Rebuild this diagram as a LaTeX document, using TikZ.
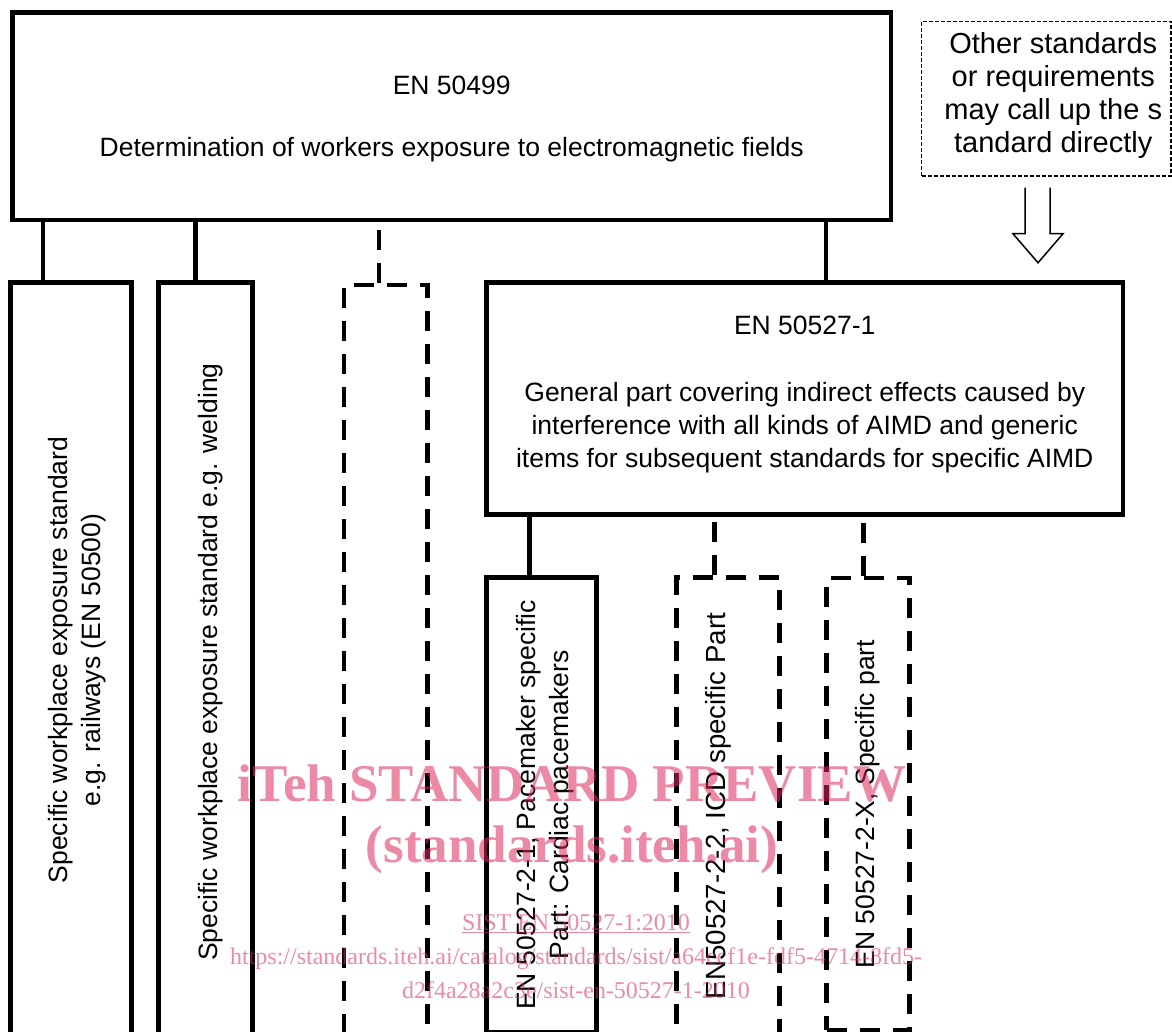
\documentclass[tikz,border=0pt]{standalone}
\usepackage{fontspec}
\setmainfont{Liberation Sans}
\newfontfamily\wmfont{Liberation Serif}
\usepackage{tikz}
\usetikzlibrary{positioning,calc}
\definecolor{wmpink}{RGB}{220,42,92}

\begin{document}
\begin{tikzpicture}[x=1pt,y=-1pt,
	box/.style={
		draw,
		rectangle, line width=4.5pt,
		inner sep=0pt
	},
	dbox/.style={
		box, dash pattern=on 20pt off 13pt
	},
	txt/.style={
		inner sep=2pt, align=center,
		font=\fontsize{26.5}{33}\selectfont
	},
	vtxt/.style={
		txt, rotate=90
	},
	link/.style={line width=4.5pt},
	dlink/.style={link, dash pattern=on 20pt off 13pt},
	wmark/.style={
		text=wmpink, text opacity=0.55,
		align=center, inner sep=0pt
	}
	]
	\useasboundingbox (0,0) rectangle (1172,1032);
	\clip (0,0) rectangle (1172,1032);
	\node[box,minimum width=878.5pt,minimum height=207.5pt] at (451.75,116.25) (en) {};
	\node[txt] at ([yshift=-3pt]en.center)
	(en-t) {EN 50499\\[29pt]Determination of workers exposure to electromagnetic fields};
	\node[draw,line width=1.5pt,dash pattern=on 4pt off 2pt,
		minimum width=249.5pt,minimum height=154.5pt] at (1046.25,98.75) (other) {};
	\node[txt,font=\fontsize{29}{33}\selectfont] at ([xshift=7pt,yshift=3pt]other.center)
	(other-t) {Other standards\\or requirements\\may call up the s\\tandard directly};
	
	\node[box,minimum width=121pt,minimum height=755pt] at (71,660) (rail) {};
	\node[vtxt] at ([xshift=6pt]rail.center)
	(rail-t) {Specific workplace exposure standard\\e.g. railways (EN 50500)};
	\node[box,minimum width=94pt,minimum height=755pt] at (205.5,660) (weld) {};
	\node[vtxt] at ([xshift=5pt,yshift=-2pt]weld.center)
	(weld-t) {Specific workplace exposure standard e.g. welding};
	\node[dbox,minimum width=83.5pt,minimum height=754pt] at (385.75,662) (more) {};
	\node[box,minimum width=636.5pt,minimum height=232pt] at (804.75,398.5) (gen) {};
	\node[txt] at ([yshift=4pt]gen.center)
	(gen-t) {EN 50527-1\\[34pt]General part covering indirect effects caused by\\interference with all kinds of AIMD and generic\\items for subsequent standards for specific AIMD};
	\node[box,minimum width=110pt,minimum height=455pt] at (541.5,805) (pace) {};
	\node[vtxt] at ([xshift=4pt]pace.center)
	(pace-t) {EN 50527-2-1, Pacemaker specific\\Part: Cardiac pacemakers};
	\node[dbox,minimum width=103pt,minimum height=457pt] at (728,806) (icd) {};
	\node[vtxt,font=\fontsize{27.7}{33}\selectfont] at ([xshift=-10pt]icd.center)
	(icd-t) {EN50527-2-2, ICD specific Part};
	\node[dbox,minimum width=83pt,minimum height=452pt] at (868,804) (spec) {};
	\node[vtxt] at (spec.center)
	(spec-t) {EN 50527-2-X, Specific part};
	
	\coordinate (c1) at ($(rail.north west)!0.277!(rail.north east)$);
	\coordinate (c2) at ($(weld.north west)!0.40!(weld.north east)$);
	\coordinate (c3) at ($(more.north west)!0.425!(more.north east)$);
	\coordinate (c4) at ($(gen.north west)!0.533!(gen.north east)$);
	\coordinate (c5) at ($(pace.north west)!0.395!(pace.north east)$);
	\coordinate (c6) at ($(icd.north west)!0.374!(icd.north east)$);
	\coordinate (c7) at ($(spec.north west)!0.446!(spec.north east)$);
	
	\draw[link] (c1) -- (c1 |- en.south);
	\draw[link] (c2) -- (c2 |- en.south);
	\draw[dlink] (c3) -- (c3 |- en.south);
	\draw[link] (c4) -- (c4 |- en.south);
	\draw[link] (c5) -- (c5 |- gen.south);
	\draw[dlink] (c6) -- (c6 |- gen.south);
	\draw[dlink] (c7) -- (c7 |- gen.south);
	
	\draw[line width=1.5pt,line join=miter] ([xshift=-21.25pt,yshift=-11pt]other.south) coordinate (ar)
		-- ++(0,46) -- ++(-12,0) -- ++(25,29) -- ++(25,-29) -- ++(-13,0) -- ++(0,-46);
	
	\node[wmark,font=\wmfont\bfseries\fontsize{53}{61}\selectfont] at (572,819)
	(wm) {iTeh STANDARD PREVIEW\\(standards.iteh.ai)};
	\node[wmark,font=\wmfont\fontsize{24}{34}\selectfont] at (576,957)
	(url) {\underline{SIST EN 50527-1:2010}\\https://standards.iteh.ai/catalog/standards/sist/a64ccf1e-fdf5-4714-8fd5-\\d2f4a28a2c3e/sist-en-50527-1-2010};
\end{tikzpicture}
\end{document}
